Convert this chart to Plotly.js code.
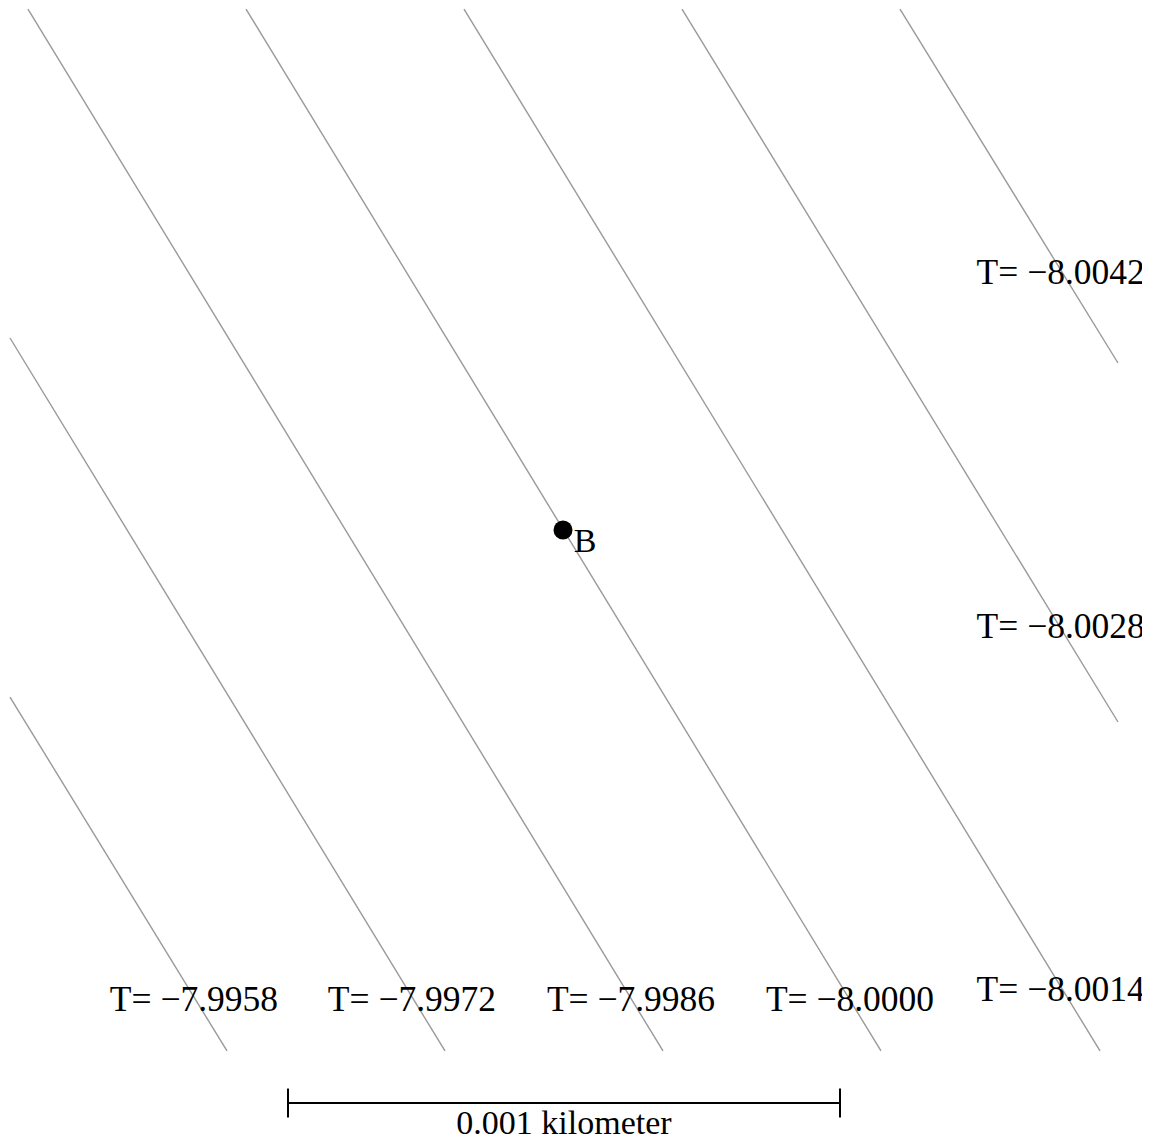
<!DOCTYPE html>
<html>
<head>
<meta charset="utf-8">
<script src="https://cdn.plot.ly/plotly-3.0.1.min.js"></script>
<style>html,body{margin:0;padding:0;background:#fff;}#chart{width:1154px;height:1146px;}</style>
</head>
<body>
<div id="chart"></div>
<script>
// Isotherm levels and their straight segments (metres, origin at point B)
const tLevels    = [-7.9958, -7.9972, -7.9986, -8.0000, -8.0014, -8.0028, -8.0042];
const lineStartX = [-1.0000, -1.0000, -0.9675, -0.5732, -0.1790,  0.2152,  0.6094];
const lineStartY = [-0.3020,  0.3472,  0.9421,  0.9421,  0.9421,  0.9421,  0.9421];
const lineEndX   = [-0.6076, -0.2134,  0.1808,  0.5750,  0.9711,  1.0036,  1.0036];
const lineEndY   = [-0.9421, -0.9421, -0.9421, -0.9421, -0.9421, -0.3472,  0.3020];
const labelX     = [-0.6673, -0.2731,  0.1230,  0.5190,  0.9000,  0.9000,  0.9000];
const labelY     = [-0.8530, -0.8530, -0.8530, -0.8530, -0.8350, -0.1800,  0.4600];

// Point of interest
const pointX = [0];
const pointY = [0];
const pointNames = ['B'];
const pointLabelX = [0.0398];
const pointLabelY = [-0.0235];

// Scale bar (1 m = 0.001 km)
const scaleBarX = [-0.4973, 0.5009];
const scaleBarY = -1.0362;
const scaleTickHalf = 0.0262;
const scaleLabel = '0.001 kilometer';
const scaleLabelY = -1.0760;

const serif = 'Liberation Serif';

function fmt(t) {
  const s = Math.abs(t).toFixed(4);
  return 'T= ' + (t < 0 ? '\u2212' : '') + s;
}

const lx = [], ly = [];
for (let i = 0; i < tLevels.length; i++) {
  lx.push(lineStartX[i], lineEndX[i], null);
  ly.push(lineStartY[i], lineEndY[i], null);
}

const traces = [
  {
    type: 'scatter', mode: 'lines', x: lx, y: ly,
    line: {color: '#999999', width: 1.4}, hoverinfo: 'skip', cliponaxis: true
  },
  {
    type: 'scatter', mode: 'text', x: labelX, y: labelY,
    text: tLevels.map(fmt), textposition: 'middle center',
    textfont: {family: serif, size: 35.5, color: '#000'}, hoverinfo: 'skip', cliponaxis: true
  },
  {
    type: 'scatter', mode: 'markers', x: pointX, y: pointY,
    marker: {color: '#000', size: 19, line: {width: 0}}, hoverinfo: 'skip'
  },
  {
    type: 'scatter', mode: 'text', x: pointLabelX, y: pointLabelY, text: pointNames,
    textposition: 'middle center',
    textfont: {family: serif, size: 34, color: '#000'}, hoverinfo: 'skip'
  },
  {
    type: 'scatter', mode: 'lines',
    x: [scaleBarX[0], scaleBarX[1], null, scaleBarX[0], scaleBarX[0], null, scaleBarX[1], scaleBarX[1]],
    y: [scaleBarY, scaleBarY, null, scaleBarY + scaleTickHalf, scaleBarY - scaleTickHalf, null, scaleBarY + scaleTickHalf, scaleBarY - scaleTickHalf],
    line: {color: '#000', width: 2}, hoverinfo: 'skip'
  },
  {
    type: 'scatter', mode: 'text',
    x: [(scaleBarX[0] + scaleBarX[1]) / 2], y: [scaleLabelY], text: [scaleLabel],
    textposition: 'middle center',
    textfont: {family: serif, size: 34, color: '#000'}, hoverinfo: 'skip'
  }
];

const layout = {
  width: 1154, height: 1146,
  margin: {l: 0, r: 12, t: 0, b: 0, pad: 0},
  paper_bgcolor: '#fff', plot_bgcolor: '#fff',
  showlegend: false,
  xaxis: {range: [-1.01808, 1.04702], visible: false, showgrid: false, zeroline: false, fixedrange: true},
  yaxis: {range: [-1.11392, 0.95841], visible: false, showgrid: false, zeroline: false, fixedrange: true}
};

Plotly.newPlot('chart', traces, layout, {displayModeBar: false, staticPlot: true});
</script>
</body>
</html>
